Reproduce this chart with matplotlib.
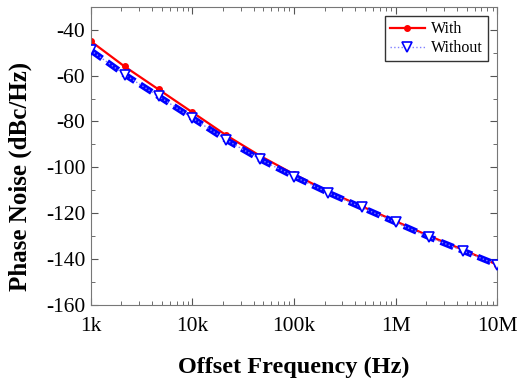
import numpy as np
import matplotlib.pyplot as plt
from matplotlib.ticker import FixedLocator, LogLocator, NullFormatter, MultipleLocator

# offset frequencies (Hz), three points per decade
freq = [1e3, 2.15e3, 4.64e3, 1e4, 2.15e4, 4.64e4, 1e5, 2.15e5, 4.64e5, 1e6, 2.15e6, 4.64e6, 1e7]
pn_with = [-45, -56, -66, -76, -86, -95, -103, -110.5, -117, -123.5, -130, -136, -142.5]
pn_without = [-49, -59.5, -69, -78.5, -88, -96.5, -104, -111, -117.5, -124, -130.5, -136.5, -142.5]

xticks = [1e3, 1e4, 1e5, 1e6, 1e7]
xlabels = ["1k", "10k", "100k", "1M", "10M"]
yticks = [-160, -140, -120, -100, -80, -60, -40]

plt.rcParams['font.family'] = ['Liberation Serif', 'DejaVu Serif']
plt.rcParams['axes.unicode_minus'] = False

fig = plt.figure(figsize=(5.19, 3.83), dpi=100)
ax = fig.add_axes([0.175, 0.204, 0.783, 0.778])

ax.plot(freq, pn_with, color='red', lw=1.6, marker='o', ms=4, label='With', zorder=2)
# thick dashed trace for the "without" data
ax.plot(freq, pn_without, color='blue', lw=4.5, ls=(0, (2.2, 1.0)), zorder=3)
ax.plot(freq, pn_without, color='#8080ff', lw=1, ls=':', marker='v', ms=6.5,
        mfc='white', mec='blue', mew=1.2, label='Without', zorder=4)

ax.set_xscale('log')
ax.set_xlim(1e3, 1e7)
ax.set_ylim(-160, -30)
ax.xaxis.set_major_locator(FixedLocator(xticks))
ax.set_xticklabels(xlabels)
ax.xaxis.set_minor_locator(LogLocator(base=10, subs=np.arange(2, 10)))
ax.xaxis.set_minor_formatter(NullFormatter())
ax.set_yticks(yticks)
ax.yaxis.set_minor_locator(MultipleLocator(10))

ax.tick_params(which='both', direction='in', top=True, right=True, labelsize=15.5, color='#555555')
ax.tick_params(which='major', length=5)
ax.tick_params(which='minor', length=3)
ax.tick_params(axis='x', pad=9)
ax.tick_params(axis='y', pad=4)
for s in ax.spines.values():
    s.set_color('#777777')

ax.set_xlabel('Offset Frequency (Hz)', fontsize=17.5, fontweight='bold')
ax.set_ylabel('Phase Noise (dBc/Hz)', fontsize=18, fontweight='bold')
ax.xaxis.set_label_coords(0.5, -0.175)
ax.yaxis.set_label_coords(-0.145, 0.43)

leg = ax.legend(loc='upper right', fontsize=11.5, fancybox=False, framealpha=1,
                edgecolor='#333333', handlelength=2.2, borderpad=0.3, labelspacing=0.2,
                handletextpad=0.4, borderaxespad=0.6)
leg.get_frame().set_linewidth(1)

fig.savefig('out.png', dpi=100)
